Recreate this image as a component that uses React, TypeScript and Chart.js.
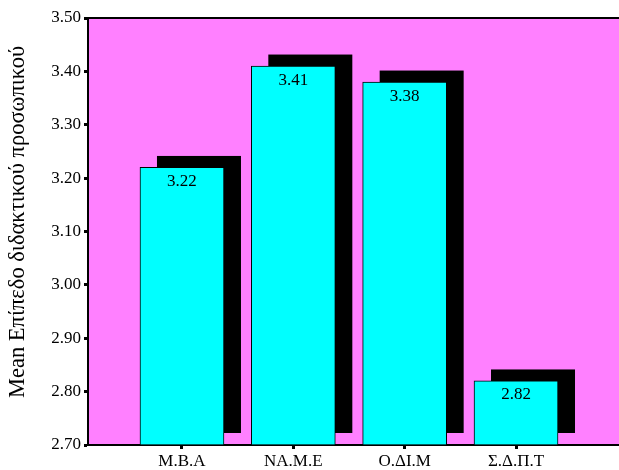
import { useEffect, useRef } from 'react';
import { Chart, registerables } from 'chart.js';

Chart.register(...registerables);

const categories = ['Μ.Β.Α', 'ΝΑ.Μ.Ε', 'Ο.ΔΙ.Μ', 'Σ.Δ.Π.Τ'];
const means = [3.22, 3.41, 3.38, 2.82];
const valueLabels = ['3.22', '3.41', '3.38', '2.82'];
const yMin = 2.7;
const yMax = 3.5;
const yTicks = [2.7, 2.8, 2.9, 3.0, 3.1, 3.2, 3.3, 3.4, 3.5];
const yTitle = 'Mean Επίπεδο διδακτικού προσωπικού';

const FONT = '"Liberation Serif", "Times New Roman", serif';

const decorPlugin = {
  id: 'decor',
  beforeDraw(chart: any) {
    const { ctx, chartArea } = chart;
    ctx.save();
    ctx.fillStyle = '#FF80FF';
    ctx.fillRect(chartArea.left, chartArea.top, chartArea.right - chartArea.left, chartArea.bottom - chartArea.top);
    ctx.strokeStyle = '#000';
    ctx.lineWidth = 2;
    ctx.beginPath();
    ctx.moveTo(chartArea.left, chartArea.top);
    ctx.lineTo(chartArea.right, chartArea.top);
    ctx.stroke();
    ctx.restore();
  },
  beforeDatasetsDraw(chart: any) {
    const { ctx } = chart;
    const meta = chart.getDatasetMeta(0);
    ctx.save();
    ctx.fillStyle = '#000';
    meta.data.forEach((bar: any) => {
      const w = bar.width;
      ctx.fillRect(bar.x - w / 2 + 17, bar.y - 11.5, w, bar.base - bar.y);
    });
    ctx.restore();
  },
  afterDatasetsDraw(chart: any) {
    const { ctx } = chart;
    const meta = chart.getDatasetMeta(0);
    ctx.save();
    ctx.fillStyle = '#000';
    ctx.font = `17px ${FONT}`;
    ctx.textAlign = 'center';
    ctx.textBaseline = 'middle';
    meta.data.forEach((bar: any, i: number) => {
      ctx.fillText(valueLabels[i], bar.x, bar.y + 14);
    });
    ctx.restore();
  },
  afterDraw(chart: any) {
    const { ctx } = chart;
    ctx.save();
    ctx.translate(18, 222);
    ctx.rotate(-Math.PI / 2);
    ctx.fillStyle = '#000';
    ctx.font = `22.5px ${FONT}`;
    ctx.textAlign = 'center';
    ctx.textBaseline = 'middle';
    ctx.fillText(yTitle, 0, 0);
    ctx.restore();
  },
};

export default function App() {
  const ref = useRef<HTMLCanvasElement | null>(null);

  useEffect(() => {
    document.body.style.margin = '0';
    const canvas = ref.current;
    if (!canvas) return;
    const chart = new Chart(canvas, {
      type: 'bar',
      data: {
        datasets: [
          {
            data: means.map((v, i) => ({ x: i, y: v })),
            base: yMin,
            backgroundColor: '#00FFFF',
            borderColor: '#000',
            borderWidth: 1,
            borderSkipped: 'bottom',
            barThickness: 84,
          },
        ],
      },
      plugins: [decorPlugin],
      options: {
        responsive: false,
        animation: false,
        layout: { padding: { top: 18, right: 0, left: 0, bottom: 0 } },
        plugins: { legend: { display: false }, tooltip: { enabled: false } },
        scales: {
          x: {
            type: 'linear',
            min: -0.844,
            max: 3.925,
            offset: false,
            z: 1,
            afterBuildTicks: (scale: any) => {
              scale.ticks = categories.map((_, i) => ({ value: i }));
            },
            afterFit: (scale: any) => {
              scale.height = 25;
            },
            ticks: {
              color: '#000',
              font: { family: FONT, size: 17 },
              padding: 2,
              maxRotation: 0,
              autoSkip: false,
              callback: (v: any) => categories[v] ?? '',
            },
            grid: {
              display: true,
              offset: false,
              drawOnChartArea: false,
              drawTicks: true,
              tickLength: 4,
              tickWidth: 3,
              color: '#000',
            },
            border: { display: true, color: '#000', width: 2 },
          },
          y: {
            type: 'linear',
            min: yMin,
            max: yMax,
            beginAtZero: false,
            z: 1,
            afterBuildTicks: (scale: any) => {
              scale.ticks = yTicks.map((v) => ({ value: v }));
            },
            afterFit: (scale: any) => {
              scale.width = 88;
            },
            ticks: {
              color: '#000',
              font: { family: FONT, size: 17 },
              padding: 3,
              callback: (v: any) => Number(v).toFixed(2),
            },
            grid: {
              display: true,
              drawOnChartArea: false,
              drawTicks: true,
              tickLength: 4,
              tickWidth: 3,
              color: '#000',
            },
            border: { display: true, color: '#000', width: 2 },
          },
        },
      },
    });
    return () => chart.destroy();
  }, []);

  return (
    <div style={{ width: 619, height: 470 }}>
      <canvas ref={ref} width={619} height={470} style={{ display: 'block' }} />
    </div>
  );
}
